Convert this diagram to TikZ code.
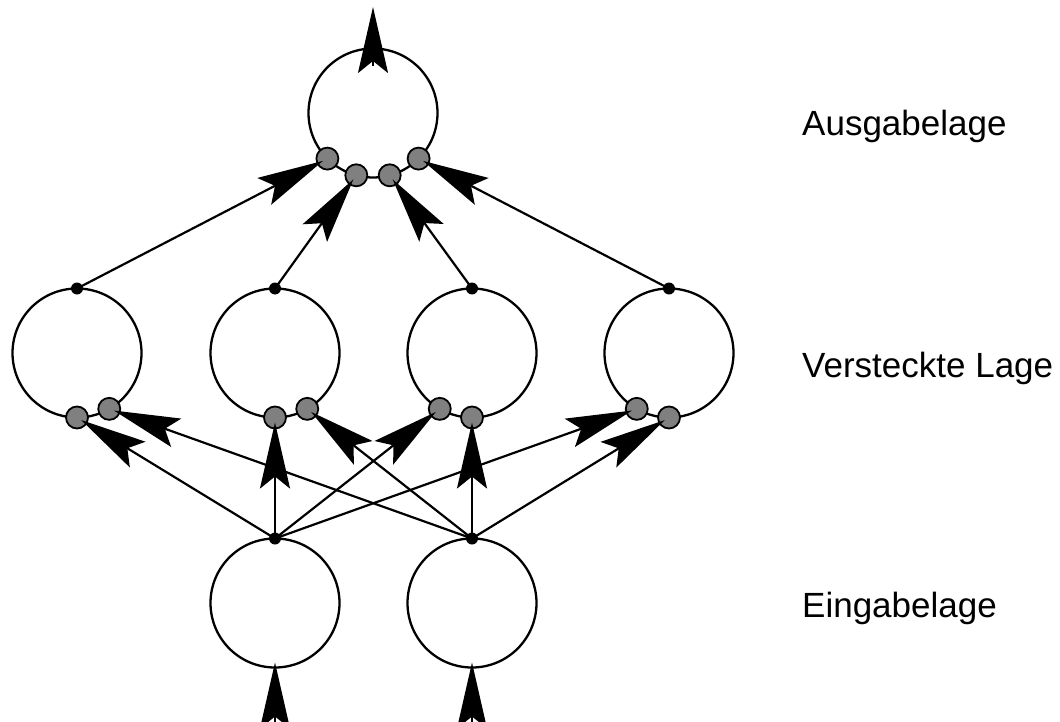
\documentclass[tikz,border=0pt]{standalone}
\usepackage{fontspec}
\setmainfont{Liberation Sans}
\usetikzlibrary{arrows.meta}
\begin{document}
\begin{tikzpicture}[x=1pt,y=-1pt,
  neuron/.style={circle,draw,line width=2.3pt,minimum size=129pt,inner sep=0pt,outer sep=0pt},
  syn/.style={circle,draw,line width=1.8pt,fill=gray,minimum size=22pt,inner sep=0pt},
  axon/.style={circle,fill=black,minimum size=12pt,inner sep=0pt},
  conn/.style={line width=2.2pt,-{Stealth[length=66pt,width=30pt,inset=12pt]},shorten >=5pt},
  lab/.style={anchor=base west,font=\fontsize{35pt}{40pt}\selectfont,inner sep=0pt}]
\useasboundingbox (0,0) rectangle (1060,722);
% neurons
\node[neuron] (o)  at (373,113) {};
\node[neuron] (h1) at (77,353) {};
\node[neuron] (h2) at (275,353) {};
\node[neuron] (h3) at (472,353) {};
\node[neuron] (h4) at (669,353) {};
\node[neuron] (i1) at (275,603) {};
\node[neuron] (i2) at (472,603) {};
% synapses
\node[syn] (o1) at (o.225) {};
\node[syn] (o2) at (o.255) {};
\node[syn] (o3) at (o.285) {};
\node[syn] (o4) at (o.315) {};
\node[syn] (h1a) at (h1.270) {};
\node[syn] (h1b) at (h1.300) {};
\node[syn] (h2a) at (h2.270) {};
\node[syn] (h2b) at (h2.300) {};
\node[syn] (h3a) at (h3.240) {};
\node[syn] (h3b) at (h3.270) {};
\node[syn] (h4a) at (h4.240) {};
\node[syn] (h4b) at (h4.270) {};
% axon hillocks
\node[axon] (t1) at (h1.90) {};
\node[axon] (t2) at (h2.90) {};
\node[axon] (t3) at (h3.90) {};
\node[axon] (t4) at (h4.90) {};
\node[axon] (s1) at (i1.90) {};
\node[axon] (s2) at (i2.90) {};
% external ends
\coordinate (ostart) at (373,66);
\coordinate (out) at (373,7);
\coordinate (x1) at (275,722);
\coordinate (x2) at (472,722);
% connections input -> hidden
\draw[conn] (s1.center) -- (h1a.center);
\draw[conn] (s2.center) -- (h1b.center);
\draw[conn] (s1.center) -- (h2a.center);
\draw[conn] (s2.center) -- (h2b.center);
\draw[conn] (s1.center) -- (h3a.center);
\draw[conn] (s2.center) -- (h3b.center);
\draw[conn] (s1.center) -- (h4a.center);
\draw[conn] (s2.center) -- (h4b.center);
% hidden -> output
\draw[conn] (t1.center) -- (o1.center);
\draw[conn] (t2.center) -- (o2.center);
\draw[conn] (t3.center) -- (o3.center);
\draw[conn] (t4.center) -- (o4.center);
% output and inputs
\draw[conn,shorten >=0pt] (ostart) -- (out);
\draw[conn,shorten >=-5pt] (x1) -- (i1.south);
\draw[conn,shorten >=-5pt] (x2) -- (i2.south);
% labels
\node[lab] (l1) at (802,136) {Ausgabelage};
\node[lab] (l2) at (802,377) {Versteckte Lage};
\node[lab] (l3) at (802,617) {Eingabelage};
\end{tikzpicture}
\end{document}
